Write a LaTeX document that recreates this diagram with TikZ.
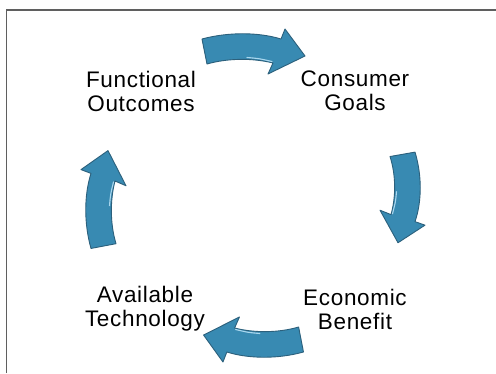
\documentclass[tikz,border=0pt]{standalone}
\usepackage{fontspec}
\setmainfont{Liberation Sans}[LetterSpace=3]
\definecolor{arrowfill}{RGB}{56,138,178}
\definecolor{arrowedge}{RGB}{44,96,124}
\definecolor{arrowlight}{RGB}{170,215,238}
\definecolor{framecol}{RGB}{95,95,95}
\tikzset{
  frame/.style={draw=framecol, line width=1.2pt},
  arrowbody/.style={fill=arrowfill, draw=arrowedge, line width=0.9pt, line join=round},
  highlight/.style={draw=arrowlight, line width=1.1pt, line cap=round},
  label/.style={font=\fontsize{22.5}{24}\selectfont, align=center, inner sep=0pt},
  pics/cyclearrow/.style={code={
    \filldraw[arrowbody] (-51,9) .. controls (-25,16) and (5,16) .. (28,9)
      -- (32,19) -- (52,-8) -- (15,-26) -- (20,-15)
      .. controls (0,-10) and (-25,-10) .. (-46,-16) -- cycle;
    \draw[highlight] (-6,-9.5) .. controls (6,-10.5) .. (19,-13.5);
  }}
}
\begin{document}
\begin{tikzpicture}[x=1pt,y=1pt]
\useasboundingbox (0,0) rectangle (496,373);
\fill[white] (0,0) rectangle (496,373);
\draw[frame] (6.5,0) -- (6.5,363) -- (496,363);
% arrows
\pic at (253,325) {cyclearrow};
\pic[rotate=-90, xscale=0.88] at (406,176) {cyclearrow};
\pic[rotate=180, xscale=0.97] at (254,30) {cyclearrow};
\pic[rotate=90, xscale=0.95] at (100,173) {cyclearrow};
% labels
\node[label] (fo) at (141,282) {Functional\\Outcomes};
\node[label] (cg) at (355,282) {Consumer\\Goals};
\node[label] (at) at (145,64) {Available\\Technology};
\node[label] (eb) at (355,64) {Economic\\Benefit};
\end{tikzpicture}
\end{document}
